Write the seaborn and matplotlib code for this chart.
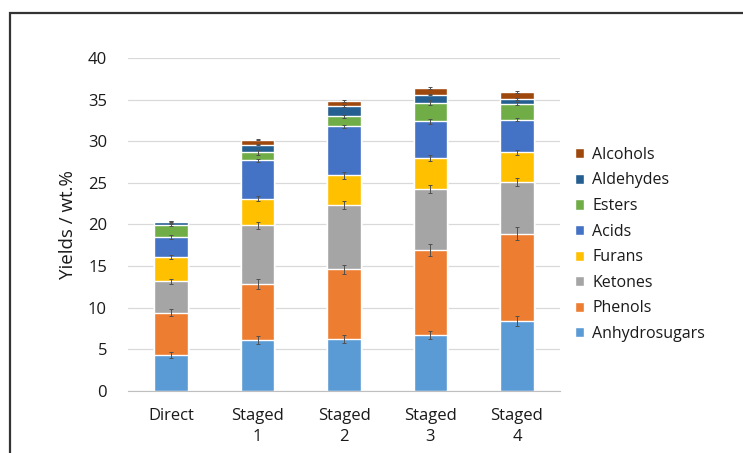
import numpy as np
import pandas as pd
import seaborn as sns
import matplotlib.pyplot as plt
from matplotlib.patches import Rectangle

# yields (wt.%) per compound class
categories = ['Direct', 'Staged\n1', 'Staged\n2', 'Staged\n3', 'Staged\n4']
groups = ['Anhydrosugars', 'Phenols', 'Ketones', 'Furans', 'Acids', 'Esters', 'Aldehydes', 'Alcohols']

anhydrosugars = [4.3, 6.1, 6.2, 6.7, 8.4]
phenols = [5.1, 6.8, 8.4, 10.2, 10.5]
ketones = [3.8, 7.0, 7.7, 7.4, 6.2]
furans = [2.9, 3.2, 3.6, 3.7, 3.6]
acids = [2.4, 4.6, 5.9, 4.4, 3.9]
esters = [1.4, 1.0, 1.2, 2.2, 1.9]
aldehydes = [0.4, 0.9, 1.2, 1.0, 0.6]
alcohols = [0.05, 0.6, 0.6, 0.8, 0.8]

# error bars (std) at the top of each segment
err_anhydrosugars = [0.4, 0.5, 0.5, 0.5, 0.6]
err_phenols = [0.4, 0.6, 0.5, 0.7, 0.8]
err_ketones = [0.3, 0.4, 0.5, 0.5, 0.5]
err_furans = [0.2, 0.3, 0.4, 0.4, 0.3]
err_acids = [0.2, 0.2, 0.2, 0.3, 0.2]
err_esters = [0.1, 0.3, 0.2, 0.3, 0.2]
err_aldehydes = [0.1, 0.1, 0.1, 0.1, 0.1]
err_alcohols = [0.05, 0.1, 0.1, 0.1, 0.1]

colors = ['#5B9BD5', '#ED7D31', '#A5A5A5', '#FFC000', '#4472C4', '#70AD47', '#255E91', '#9E480E']

values = [anhydrosugars, phenols, ketones, furans, acids, esters, aldehydes, alcohols]
errors = [err_anhydrosugars, err_phenols, err_ketones, err_furans, err_acids, err_esters, err_aldehydes, err_alcohols]

df = pd.DataFrame(dict(zip(groups, values)), index=categories)
cum = df.cumsum(axis=1)

sns.set_style('white')
plt.rcParams['font.family'] = ['Open Sans', 'DejaVu Sans']

fig = plt.figure(figsize=(7.43, 4.53), dpi=100)
ax = fig.add_axes([0.172, 0.137, 0.582, 0.735])

# stacked bars: draw cumulative totals from the top class down
for g, c in reversed(list(zip(groups, colors))):
    sns.barplot(x=cum.index, y=cum[g].values, color=c, width=0.39, errorbar=None,
                saturation=1, ax=ax, label=g, zorder=2)

x = np.arange(len(categories))
for g, e in zip(groups, errors):
    ax.errorbar(x, cum[g].values, yerr=e, fmt='none', ecolor='#505050',
                elinewidth=0.7, capsize=1.5, capthick=0.7, zorder=3)

ax.set_ylim(0, 40)
ax.set_yticks(range(0, 41, 5))
ax.set_xlim(-0.5, 4.5)
ax.yaxis.grid(True, color='#D9D9D9', linewidth=0.9, zorder=0)
ax.set_axisbelow(True)
for s in ['top', 'right', 'left']:
    ax.spines[s].set_visible(False)
ax.spines['bottom'].set_color('#BFBFBF')
ax.tick_params(axis='y', length=0, labelsize=12, labelcolor='#1a1a1a', pad=15)
ax.tick_params(axis='x', length=0, labelsize=12, labelcolor='#1a1a1a', pad=12)
for t in ax.get_xticklabels():
    t.set_linespacing(1.45)
ax.set_ylabel('Yields / wt.%', fontsize=13.5, color='#1a1a1a', labelpad=8)
ax.set_xlabel('')

handles, labels = ax.get_legend_handles_labels()
ax.legend(handles, labels, loc='center left', bbox_to_anchor=(1.0, 0.44), frameon=False,
          fontsize=11.5, handlelength=0.6, handleheight=0.6, handletextpad=0.5,
          labelspacing=0.6, labelcolor='#1a1a1a')

# outer frame (only top and left edges visible in the crop)
fig.patches.append(Rectangle((10 / 743, -0.1), 1.2, 1 - 13 / 453 + 0.1, transform=fig.transFigure,
                             fill=False, edgecolor='#333333', linewidth=1.6))

fig.savefig('out.png', dpi=100)
